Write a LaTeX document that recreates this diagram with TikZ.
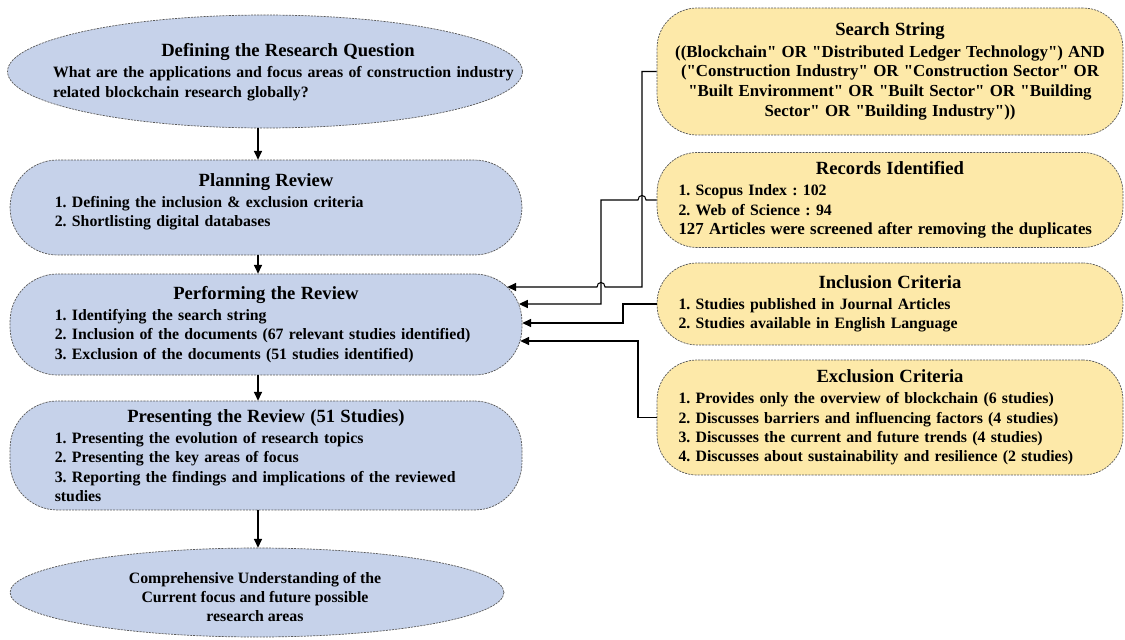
\documentclass[tikz,border=0pt]{standalone}
\usepackage{fontspec}
\setmainfont{Liberation Serif}
\usepackage{xcolor}
\usepackage{tikz}
\usetikzlibrary{arrows.meta,shapes.geometric}
\setlength{\parindent}{0pt}
\definecolor{boxblue}{HTML}{C6D2EA}
\definecolor{boxgold}{HTML}{FDE9A9}
\newcommand{\boxtitle}[1]{{\centering\fontsize{10.6}{12.5}\selectfont #1\par}\vspace{1pt}}
\newcommand{\dq}{\XeTeXglyph\XeTeXcharglyph"22\relax}

\begin{document}
\frenchspacing
\begin{tikzpicture}[x=0.02cm,y=-0.02cm,
        txt/.style={font=\bfseries\fontsize{9}{11}\selectfont},
        outline/.style={draw=gray!70!black,line width=0.4pt,dash pattern=on 1.2pt off 0.6pt},
        box/.style={outline,txt,rectangle},
        bluebox/.style={box,fill=boxblue,rounded corners=0.95cm,minimum width=10.24cm,text width=8.45cm,inner xsep=0.895cm,align=left},
        goldbox/.style={box,fill=boxgold,rounded corners=0.8cm,minimum width=9.32cm,text width=8.46cm,inner xsep=0.43cm,align=left},
        oval/.style={outline,fill=boxblue,ellipse,inner sep=0pt},
        arr/.style={-{Triangle[length=5pt,width=4.6pt]},line width=0.8pt},
        link/.style={-{Triangle[length=5pt,width=4.6pt]},line width=0.6pt}]
    \useasboundingbox (0,0) rectangle (1125,639);

    \node[oval,minimum width=10.3cm,minimum height=2.26cm] (q) at (265,71.5) {};
    \node[txt,text width=9.4cm,align=left,inner sep=0pt] (qtext) at (288,72)
        {\boxtitle{Defining the Research Question}What are the applications and focus areas of construction industry\\related blockchain research globally?};
    \node[bluebox,minimum height=1.9cm] (plan) at (266,207.5)
        {\boxtitle{Planning Review}1. Defining the inclusion \& exclusion criteria\\2. Shortlisting digital databases\rule[-8.8pt]{0pt}{1pt}};
    \node[bluebox,minimum height=2.02cm] (perf) at (266,324.5)
        {\boxtitle{Performing the Review}1. Identifying the search string\\2. Inclusion of the documents (67 relevant studies identified)\\3. Exclusion of the documents (51 studies identified)};
    \node[bluebox,minimum height=2.18cm] (pres) at (266,455.5)
        {\boxtitle{Presenting the Review (51 Studies)}1. Presenting the evolution of research topics\\2. Presenting the key areas of focus\\3. Reporting the findings and implications of the reviewed\\studies};
    \node[oval,minimum width=9.88cm,minimum height=1.78cm] (goal) at (257,592.5) {};
    \node[txt,align=center,inner sep=0pt] (goaltext) at (255,597)
        {Comprehensive Understanding of the\\Current focus and future possible\\research areas};

    \node[goldbox,text width=8.9cm,inner xsep=0.21cm,minimum height=2.54cm] (search) at (890,71.5)
        {\boxtitle{Search String}\centering\fontsize{9.6}{11.3}\selectfont
        ((Blockchain\dq{} OR \dq Distributed Ledger Technology\dq) AND\\(\dq Construction Industry\dq{} OR \dq Construction Sector\dq{} OR\\\dq Built Environment\dq{} OR \dq Built Sector\dq{} OR \dq Building\\Sector\dq{} OR \dq Building Industry\dq))\par};
    \node[goldbox,minimum height=1.9cm] (records) at (890,200)
        {\boxtitle{Records Identified}1. Scopus Index : 102\\2. Web of Science : 94\\{\fontsize{9.6}{11}\selectfont 127 Articles were screened after removing the duplicates}};
    \node[goldbox,minimum height=1.64cm] (incl) at (890,304)
        {\boxtitle{Inclusion Criteria}1. Studies published in Journal Articles\\2. Studies available in English Language};
    \node[goldbox,minimum height=2.3cm] (excl) at (890,417.5)
        {\boxtitle{Exclusion Criteria}1. Provides only the overview of blockchain (6 studies)\\2. Discusses barriers and influencing factors (4 studies)\\3. Discusses the current and future trends (4 studies)\\4. Discusses about sustainability and resilience (2 studies)};

    \coordinate (col) at (258,0);
    \foreach \a/\b in {q/plan,plan/perf,perf/pres,pres/goal}
        \draw[arr] (\a.south -| col) -- (\b.north -| col);

    \draw[link,shorten >=-0.3cm] (search.west) -| (642,287) -- (605,287)
        .. controls (605,281) and (597,281) .. (597,287) -- (perf.east |- 0,287);
    \draw[link,shorten >=-0.066cm] (records.west) -- (646,200)
        .. controls (646,194) and (638,194) .. (638,200) -| (601,304) -- (perf.east |- 0,304);
    \draw[link] (incl.west) -| (623,323) -- (perf.east |- 0,323);
    \draw[link,shorten >=-0.04cm] (excl.west) -| (638,341) -- (perf.east |- 0,341);
\end{tikzpicture}
\end{document}
